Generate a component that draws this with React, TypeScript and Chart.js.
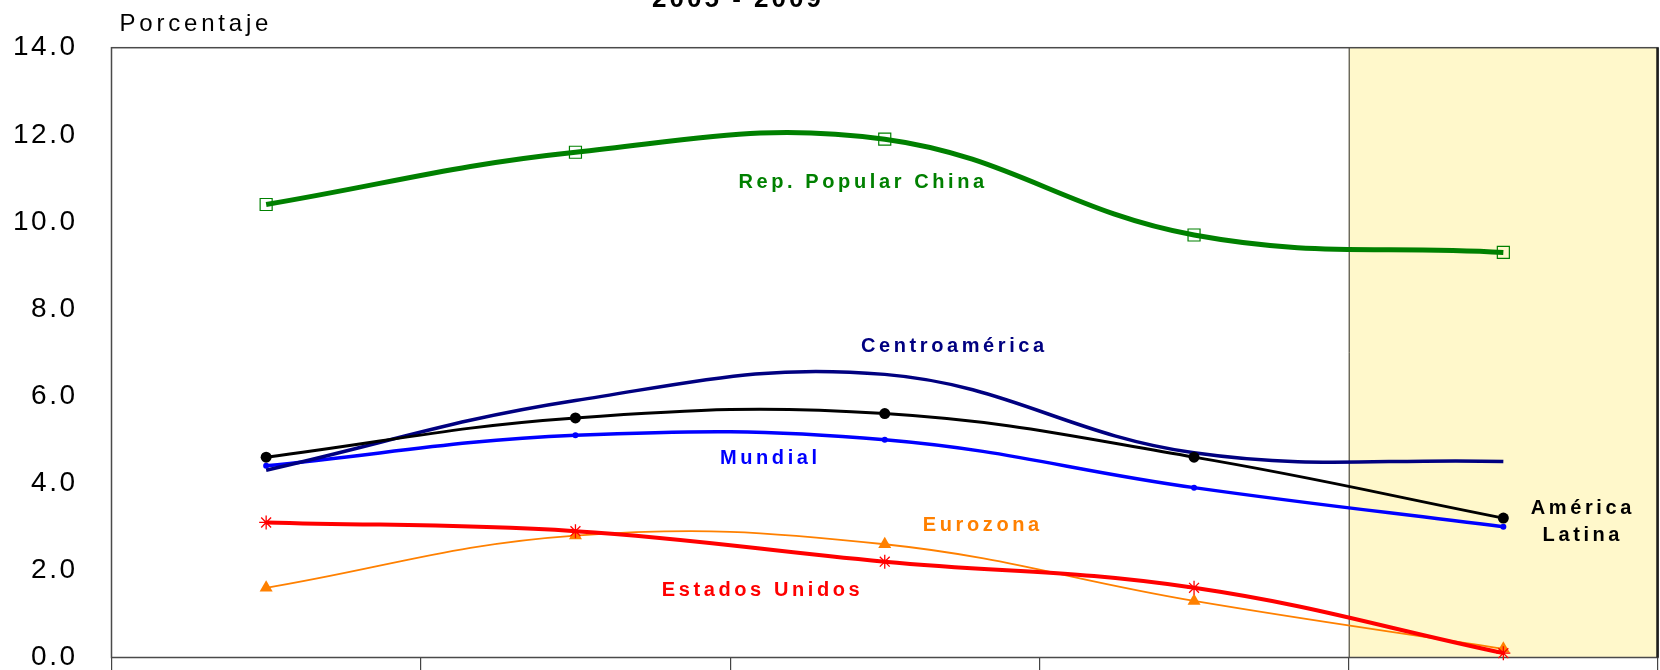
import { useEffect, useRef } from "react";
import { Chart, registerables } from "chart.js";

Chart.register(...registerables);

// Growth rates by year, in percent
const years = ["2005", "2006", "2007", "2008", "2009"];
const china = [10.4, 11.6, 11.9, 9.7, 9.3];
const centroamerica = [4.3, 5.9, 6.5, 4.7, 4.5];
const americaLatina = [4.6, 5.5, 5.6, 4.6, 3.2];
const mundial = [4.4, 5.1, 5.0, 3.9, 3.0];
const eurozona = [1.6, 2.8, 2.6, 1.3, 0.2];
const estadosUnidos = [3.1, 2.9, 2.2, 1.6, 0.1];

// Value axis
const yMin = 0;
const yMax = 14;
const yStep = 2;

// Index of the first shaded (projected) year
const shadedFrom = 4;

// Series names written next to each line, anchored in data units [category index, value]
const seriesLabels = [
  { lines: ["Rep. Popular China"], color: "#008000", at: [1.93, 10.91] },
  { lines: ["Centroamérica"], color: "#000080", at: [2.225, 7.13] },
  { lines: ["Mundial"], color: "#0000FF", at: [1.63, 4.58] },
  { lines: ["Eurozona"], color: "#FF8000", at: [2.317, 3.02] },
  { lines: ["Estados Unidos"], color: "#FF0000", at: [1.605, 1.55] },
  { lines: ["América", "Latina"], color: "#000000", at: [4.257, 3.12] },
];

const chartTitle = "2005 - 2009";
const axisTitle = "Porcentaje";

const FONT = "'Liberation Sans', Arial, sans-serif";

const decor = {
  id: "decor",
  beforeDraw(chart: any) {
    (chart.ctx as any).letterSpacing = "2.5px";
  },
  beforeDatasetsDraw(chart: any) {
    const { ctx, chartArea: a, scales } = chart;
    const x = scales.x;
    const bandLeft =
      (x.getPixelForValue(shadedFrom - 1) + x.getPixelForValue(shadedFrom)) / 2;
    ctx.save();
    ctx.fillStyle = "#FFF8CB";
    ctx.fillRect(bandLeft, a.top, a.right - bandLeft, a.bottom - a.top);
    ctx.strokeStyle = "#2a2a2a";
    ctx.lineWidth = 1;
    ctx.beginPath();
    ctx.moveTo(bandLeft + 0.5, a.top);
    ctx.lineTo(bandLeft + 0.5, a.bottom);
    ctx.stroke();
    // plot frame
    ctx.strokeStyle = "#4a4a4a";
    ctx.lineWidth = 1.5;
    ctx.strokeRect(a.left, a.top, a.right - a.left, a.bottom - a.top);
    ctx.strokeStyle = "#1e1e1e";
    ctx.lineWidth = 2.5;
    ctx.beginPath();
    ctx.moveTo(a.right - 0.5, a.top);
    ctx.lineTo(a.right - 0.5, a.bottom);
    ctx.stroke();
    ctx.restore();
  },
  afterDatasetsDraw(chart: any) {
    const { ctx, scales } = chart;
    ctx.save();
    ctx.font = `bold 20px ${FONT}`;
    (ctx as any).letterSpacing = "3.6px";
    ctx.textAlign = "left";
    ctx.textBaseline = "middle";
    const lineH = 27;
    for (const lab of seriesLabels) {
      const cx = scales.x.getPixelForValue(lab.at[0]);
      const cy = scales.y.getPixelForValue(lab.at[1]);
      ctx.fillStyle = lab.color;
      const n = lab.lines.length;
      lab.lines.forEach((t, i) => {
        const w = ctx.measureText(t).width;
        ctx.fillText(t, cx - w / 2, cy + (i - (n - 1) / 2) * lineH);
      });
    }
    ctx.restore();
  },
  afterDraw(chart: any) {
    const { ctx, chartArea: a } = chart;
    ctx.save();
    ctx.fillStyle = "#000";
    ctx.textAlign = "left";
    ctx.textBaseline = "alphabetic";
    ctx.font = `bold 26px ${FONT}`;
    (ctx as any).letterSpacing = "3px";
    const tw = ctx.measureText(chartTitle).width;
    ctx.fillText(chartTitle, 738 - tw / 2, 6.5);
    ctx.font = `24px ${FONT}`;
    (ctx as any).letterSpacing = "3.8px";
    ctx.fillText(axisTitle, a.left + 8, 31);
    ctx.restore();
  },
};

export default function App() {
  const ref = useRef<HTMLCanvasElement>(null);

  useEffect(() => {
    document.body.style.margin = "0";
    const canvas = ref.current;
    if (!canvas) return;

    const line = (
      label: string,
      data: number[],
      color: string,
      width: number,
      point: any
    ) => ({
      label,
      data,
      borderColor: color,
      backgroundColor: color,
      borderWidth: width,
      tension: 0.4,
      fill: false,
      clip: false as any,
      pointBorderColor: color,
      ...point,
    });

    const chart = new Chart(canvas, {
      type: "line",
      data: {
        labels: years,
        datasets: [
          line("Rep. Popular China", china, "#008000", 5, {
            pointStyle: "rect",
            pointRadius: 8.5,
            pointBorderWidth: 1.2,
            pointBackgroundColor: "rgba(0,0,0,0)",
          }),
          line("Estados Unidos", estadosUnidos, "#FF0000", 4, {
            pointStyle: "star",
            pointRadius: 7,
            pointBorderWidth: 1.3,
            pointBackgroundColor: "#FF0000",
          }),
          line("Eurozona", eurozona, "#FF8000", 1.8, {
            pointStyle: "triangle",
            pointRadius: 7.5,
            pointBorderWidth: 0,
            pointBackgroundColor: "#FF8000",
          }),
          line("América Latina", americaLatina, "#000000", 3, {
            pointStyle: "circle",
            pointRadius: 5.5,
            pointBorderWidth: 0,
            pointBackgroundColor: "#000000",
          }),
          line("Centroamérica", centroamerica, "#000080", 3.5, {
            pointRadius: 0,
          }),
          line("Mundial", mundial, "#0000FF", 3.5, {
            pointStyle: "circle",
            pointRadius: 3,
            pointBorderWidth: 0,
            pointBackgroundColor: "#0000FF",
          }),
        ],
      },
      options: {
        responsive: false,
        maintainAspectRatio: false,
        animation: false,
        events: [],
        layout: {
          autoPadding: false,
          padding: { top: 47.7, right: 2, bottom: 0, left: 0 },
        },
        plugins: {
          legend: { display: false },
          tooltip: { enabled: false },
          title: { display: false },
        },
        scales: {
          x: {
            type: "category",
            offset: true,
            border: { display: false },
            grid: {
              display: true,
              offset: true,
              drawOnChartArea: false,
              drawTicks: true,
              tickLength: 13,
              color: "#444",
              lineWidth: 1.2,
            },
            ticks: { display: false },
            afterFit: (s: any) => {
              s.height = 12.5;
              s.paddingLeft = 0;
              s.paddingRight = 0;
            },
          },
          y: {
            min: yMin,
            max: yMax,
            border: { display: false },
            grid: { display: false, drawTicks: false },
            ticks: {
              stepSize: yStep,
              padding: 34,
              color: "#000",
              font: { family: FONT, size: 28 },
              callback: (v: any) => Number(v).toFixed(1),
            },
            afterFit: (s: any) => {
              s.width = 111.5;
              s.paddingTop = 0;
              s.paddingBottom = 0;
            },
          },
        },
      },
      plugins: [decor],
    } as any);

    return () => chart.destroy();
  }, []);

  return (
    <div style={{ width: 1660, height: 670 }}>
      <canvas ref={ref} width={1660} height={670} style={{ display: "block" }} />
    </div>
  );
}
